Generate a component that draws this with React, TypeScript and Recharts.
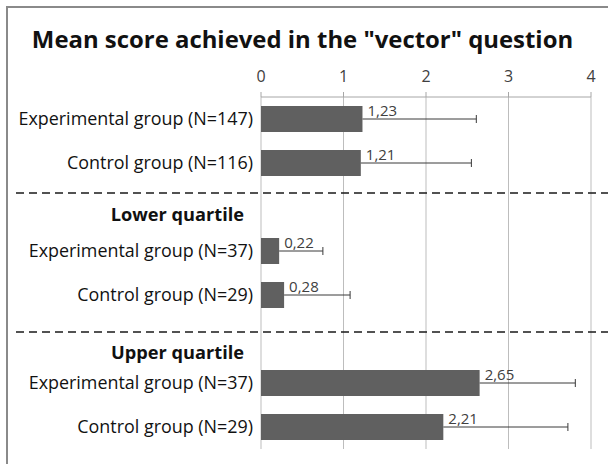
import React from "react";
import {
  Bar,
  BarChart,
  CartesianGrid,
  LabelList,
  XAxis,
  YAxis,
} from "recharts";

// rows top to bottom; header rows carry no bar
const rowLabels = [
  "Experimental group (N=147)",
  "Control group (N=116)",
  "Lower quartile",
  "Experimental group (N=37)",
  "Control group (N=29)",
  "Upper quartile",
  "Experimental group (N=37)",
  "Control group (N=29)",
];
const headerRows = [false, false, true, false, false, true, false, false];
const meanScores = [1.23, 1.21, null, 0.22, 0.28, null, 2.65, 2.21];
const errorEnds = [2.61, 2.55, null, 0.75, 1.08, null, 3.81, 3.72];
const xTicks = [0, 1, 2, 3, 4];

const FONT = "'Open Sans', 'Noto Sans', sans-serif";

// layout tweaks for the section headers (text shift, dashed rule shift)
const headerShift: Record<number, { text: number; rule: number }> = {
  2: { text: 8, rule: -14 },
  5: { text: 14, rule: -7 },
};

const data = rowLabels.map((_, i) => ({
  id: `r${i}`,
  mean: meanScores[i],
  err:
    meanScores[i] != null && errorEnds[i] != null
      ? (errorEnds[i] as number) - (meanScores[i] as number)
      : null,
}));

const RowTick = (props: any) => {
  const { x, y, payload } = props;
  const i = payload.index;
  if (headerRows[i]) {
    const s = headerShift[i];
    return (
      <g>
        <line
          x1={16}
          x2={608}
          y1={y + s.rule}
          y2={y + s.rule}
          stroke="#1a1a1a"
          strokeWidth={1.5}
          strokeDasharray="8 5"
        />
        <text
          x={x - 9}
          y={y + s.text}
          dy="0.35em"
          textAnchor="end"
          fontFamily={FONT}
          fontSize={18.2}
          fontWeight="bold"
          fill="#111"
        >
          {rowLabels[i]}
        </text>
      </g>
    );
  }
  return (
    <text
      x={x}
      y={y}
      dy="0.35em"
      textAnchor="end"
      fontFamily={FONT}
      fontSize={17.9}
      fill="#111"
    >
      {rowLabels[i]}
    </text>
  );
};

const Whisker = (props: any) => {
  const { x, y, width, height } = props;
  if (!width || width <= 0) return null;
  const cy = y + height / 2;
  return (
    <g stroke="#3a3a3a" strokeWidth={1}>
      <line x1={x} x2={x + width} y1={cy} y2={cy} />
      <line x1={x + width} x2={x + width} y1={cy - 4} y2={cy + 4} />
    </g>
  );
};

const ValueLabel = (props: any) => {
  const { x, y, width, height, value } = props;
  if (value == null) return null;
  return (
    <text
      x={x + width + 5}
      y={y + height / 2 - 3}
      fontFamily={FONT}
      fontSize={15}
      fill="#404040"
    >
      {Number(value).toFixed(2).replace(".", ",")}
    </text>
  );
};

export default function App() {
  return (
    <div
      style={{
        position: "absolute",
        left: 0,
        top: 0,
        width: 608,
        height: 464,
        overflow: "hidden",
        background: "#fff",
      }}
    >
      <div
        style={{
          position: "absolute",
          left: 6,
          top: 6,
          width: 700,
          height: 600,
          borderLeft: "2px solid #8a8a8a",
          borderTop: "2px solid #8a8a8a",
        }}
      />
      <div
        style={{
          position: "absolute",
          left: 0,
          top: 22,
          width: 605,
          textAlign: "center",
          fontFamily: FONT,
          fontWeight: "bold",
          fontSize: 23.9,
          color: "#111",
          whiteSpace: "nowrap",
        }}
      >
        Mean score achieved in the "vector" question
      </div>
      <div style={{ position: "absolute", left: 0, top: 0 }}>
        <BarChart
          width={608}
          height={464}
          data={data}
          layout="vertical"
          margin={{ top: 67, right: 17, bottom: 15, left: 0 }}
          barSize={26}
        >
          <CartesianGrid horizontal={false} stroke="#bdbdbd" />
          <XAxis
            type="number"
            orientation="top"
            domain={[0, 4]}
            ticks={xTicks}
            height={30}
            axisLine={{ stroke: "#a6a6a6" }}
            tickLine={{ stroke: "#a6a6a6" }}
            tickSize={5}
            tickMargin={10}
            tick={{ fill: "#404040", fontSize: 16, fontFamily: FONT }}
          />
          <YAxis
            type="category"
            dataKey="id"
            width={261}
            axisLine={false}
            tickLine={false}
            tickSize={0}
            tickMargin={8}
            interval={0}
            tick={<RowTick />}
          />
          <Bar
            dataKey="mean"
            stackId="s"
            fill="#606060"
            isAnimationActive={false}
          >
            <LabelList dataKey="mean" content={<ValueLabel />} />
          </Bar>
          <Bar
            dataKey="err"
            stackId="s"
            fill="none"
            shape={<Whisker />}
            isAnimationActive={false}
          />
        </BarChart>
      </div>
    </div>
  );
}
